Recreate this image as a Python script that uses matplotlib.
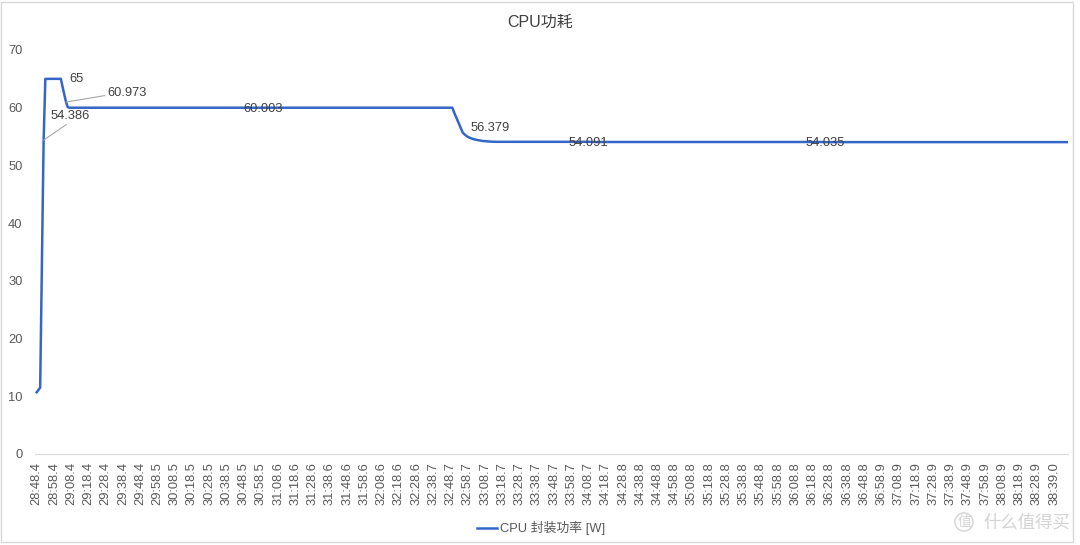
import numpy as np
import matplotlib.pyplot as plt
from matplotlib.patches import Rectangle

plt.rcParams['font.family'] = ['Liberation Sans', 'Noto Sans CJK SC', 'DejaVu Sans']

# CPU package power [W], one sample per second, stored as runs of readings
run_values = ([10.7, 11.1, 11.5, 33.0, 54.386]
              + [65.0]
              + [63.6, 62.3, 60.973, 60.1]
              + [60.0, 60.003, 60.0]
              + [59.2, 58.5, 57.8, 57.1, 56.379]
              + [55.7, 55.4, 55.15, 54.95, 54.8, 54.68, 54.58, 54.5, 54.43, 54.37,
                 54.32, 54.27, 54.23, 54.2, 54.17, 54.15, 54.13, 54.11, 54.1, 54.09, 54.09]
              + [54.091, 54.06, 54.035, 54.04])
run_lengths = ([1, 1, 1, 1, 1]
               + [10]
               + [1, 1, 1, 1]
               + [112, 1, 110]
               + [1, 1, 1, 1, 1]
               + [1] * 21
               + [54, 135, 1, 141])
power = np.repeat(run_values, run_lengths)

tick_labels = ['28:48.4', '28:58.4', '29:08.4', '29:18.4', '29:28.4', '29:38.4', '29:48.4',
               '29:58.5', '30:08.5', '30:18.5', '30:28.5', '30:38.5', '30:48.5', '30:58.5',
               '31:08.6', '31:18.6', '31:28.6', '31:38.6', '31:48.6', '31:58.6', '32:08.6',
               '32:18.6', '32:28.6', '32:38.7', '32:48.7', '32:58.7', '33:08.7', '33:18.7',
               '33:28.7', '33:38.7', '33:48.7', '33:58.7', '34:08.7', '34:18.7', '34:28.8',
               '34:38.8', '34:48.8', '34:58.8', '35:08.8', '35:18.8', '35:28.8', '35:38.8',
               '35:48.8', '35:58.8', '36:08.8', '36:18.8', '36:28.8', '36:38.8', '36:48.8',
               '36:58.9', '37:08.9', '37:18.9', '37:28.9', '37:38.9', '37:48.9', '37:58.9',
               '38:08.9', '38:18.9', '38:28.9', '38:39.0']
tick_step = 10

# labelled points: sample index
label_idx = [4, 5, 17, 131, 246, 320, 457]

txt_col = '#595959'
line_col = '#3466c8'

fig = plt.figure(figsize=(10.8, 5.45), dpi=100)
ax = fig.add_axes([35 / 1080, 91 / 545, 1033 / 1080, 404 / 545])

x = np.arange(len(power))
ax.plot(x, power, color=line_col, lw=1.8, solid_joinstyle='round', label='CPU 封装功率 [W]')

ax.set_xlim(-1, len(power) - 1)
ax.set_ylim(0, 70)
ax.set_yticks(range(0, 71, 10))
ax.set_xticks(np.arange(len(tick_labels)) * tick_step)
ax.set_xticklabels(tick_labels, rotation=90)
ax.tick_params(axis='both', length=0, colors=txt_col, labelsize=9.3)
ax.tick_params(axis='y', pad=9)
ax.tick_params(axis='x', pad=6)
for s in ['top', 'right', 'left']:
    ax.spines[s].set_visible(False)
ax.spines['bottom'].set_color('#d9d9d9')
ax.spines['bottom'].set_linewidth(0.8)

# data labels (text offsets in data units)
lab_kw = dict(fontsize=9.3, color='#404040', ha='center', va='center')
lead = dict(arrowstyle='-', color='#a6a6a6', lw=0.8, shrinkA=0, shrinkB=0)
i = label_idx
ax.annotate(f'{power[i[0]]:g}', xy=(i[0], power[i[0]]), xytext=(19.5, 58.6),
            arrowprops=dict(lead, relpos=(0.5, 0.0)), **lab_kw)
ax.annotate(f'{power[i[1]]:g}', xy=(i[1], power[i[1]]), xytext=(23, 64.9), **lab_kw)
ax.annotate(f'{power[i[2]]:g}', xy=(i[2], power[i[2]]), xytext=(52.5, 62.6),
            arrowprops=dict(lead, relpos=(0.0, 0.3)), **lab_kw)
ax.annotate(f'{power[i[3]]:g}', xy=(i[3], power[i[3]]), xytext=(i[3], 59.8), **lab_kw)
ax.annotate(f'{power[i[4]]:g}', xy=(i[4], power[i[4]]), xytext=(263, 56.4), **lab_kw)
ax.annotate(f'{power[i[5]]:g}', xy=(i[5], power[i[5]]), xytext=(i[5], 53.9), **lab_kw)
ax.annotate(f'{power[i[6]]:g}', xy=(i[6], power[i[6]]), xytext=(i[6], 53.9), **lab_kw)

fig.text(540 / 1080, 1 - 22 / 545, 'CPU功耗', ha='center', va='center',
         fontsize=11.5, color='#404040')

fig.legend(loc='center', bbox_to_anchor=(541 / 1080, 1 - 528 / 545), frameon=False,
           fontsize=9.3, handlelength=1.6, handletextpad=0.2, labelcolor=txt_col)

# site watermark
fig.text(964 / 1080, 1 - 522 / 545, '值', ha='center', va='center', fontsize=10,
         color='#d4d4d4', bbox=dict(boxstyle='circle,pad=0.15', fc='none', ec='#d4d4d4', lw=1))
fig.text(1027 / 1080, 1 - 522 / 545, '什么值得买', ha='center', va='center',
         fontsize=12.5, color='#d4d4d4')

# chart frame
fig.add_artist(Rectangle((1 / 1080, 3 / 545), 1072 / 1080, 540 / 545, transform=fig.transFigure,
                         fill=False, ec='#d9d9d9', lw=1))

fig.savefig('out.png', dpi=100)
